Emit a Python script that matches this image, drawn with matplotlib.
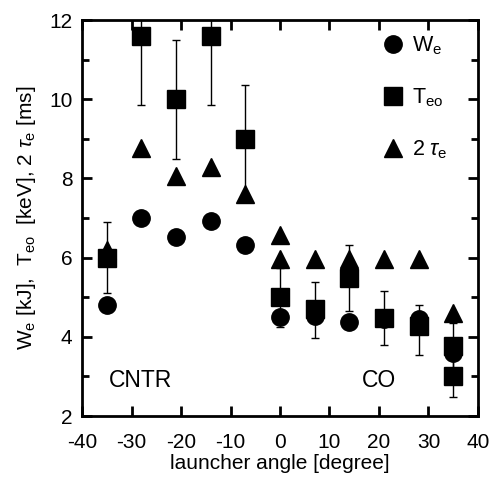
import matplotlib
matplotlib.use("Agg")
import matplotlib.pyplot as plt
from matplotlib.ticker import MultipleLocator

plt.rcParams['font.family'] = ['Liberation Sans', 'DejaVu Sans']
plt.rcParams['mathtext.fontset'] = 'custom'
plt.rcParams['mathtext.rm'] = 'Liberation Sans'
plt.rcParams['mathtext.it'] = 'Liberation Sans:italic'
plt.rcParams['axes.unicode_minus'] = False

# W_e [kJ]
we_angle = [-35, -28, -21, -14, -7, 0, 7, 14, 21, 28, 35]
we_value = [4.8, 7.0, 6.53, 6.92, 6.33, 4.5, 4.53, 4.38, 4.45, 4.46, 3.6]

# T_eo [keV]
te_angle = [-35, -28, -21, -14, -7, 0, 7, 14, 21, 28, 35, 35]
te_value = [6.0, 11.6, 10.0, 11.6, 9.0, 5.0, 4.7, 5.49, 4.48, 4.28, 3.77, 3.0]
te_err_low = [0.9, 1.75, 1.5, 1.75, 1.4, 0.75, 0.73, 0.83, 0.68, 0.74, 0.6, 0.52]
te_err_high = [0.9, 1.75, 1.5, 1.75, 1.35, 0.75, 0.69, 0.84, 0.68, 0.53, 0.58, 0.5]

# 2 tau_e [ms]
tau_angle = [-35, -28, -21, -14, -7, 0, 0, 7, 14, 21, 28, 35]
tau_value = [6.2, 8.78, 8.05, 8.28, 7.6, 6.58, 5.97, 5.97, 5.97, 5.97, 5.97, 4.6]

fig = plt.figure(figsize=(4.98, 4.88), dpi=100)
ax = fig.add_axes([0.1647, 0.1475, 0.7951, 0.8115])

ax.errorbar(te_angle, te_value, yerr=[te_err_low, te_err_high], fmt='none',
            ecolor='black', elinewidth=1.0, capsize=3, capthick=1.0, zorder=2)
ax.plot(we_angle, we_value, 'o', color='black', ms=12.5, zorder=3, label=r'W$_{\rm e}$')
ax.plot(te_angle, te_value, 's', color='black', ms=13.5, zorder=4, label=r'T$_{\rm eo}$')
ax.plot(tau_angle, tau_value, '^', color='black', ms=13, zorder=3, label=r'2 $\tau_{\rm e}$')

ax.set_xlim(-40, 40)
ax.set_ylim(2, 12)
ax.xaxis.set_major_locator(MultipleLocator(10))
ax.yaxis.set_major_locator(MultipleLocator(2))
ax.yaxis.set_minor_locator(MultipleLocator(1))
ax.tick_params(which='both', direction='in', top=True, right=True, width=2, labelsize=15)
ax.tick_params(which='major', length=7)
ax.tick_params(which='minor', length=5)
ax.tick_params(axis='x', which='major', pad=12)
ax.tick_params(axis='y', which='major', pad=7)
for s in ax.spines.values():
    s.set_linewidth(2)

ax.set_xlabel('launcher angle [degree]', fontsize=15, labelpad=2)
ax.set_ylabel(r'W$_{\rm e}$ [kJ],  T$_{\rm eo}$  [keV], 2 $\tau_{\rm e}$ [ms]', fontsize=15,
              labelpad=8)

ax.text(-34.5, 2.9, 'CNTR', fontsize=16.5, ha='left', va='center')
ax.text(16.5, 2.9, 'CO', fontsize=16.5, ha='left', va='center')

ax.legend(loc='upper right', bbox_to_anchor=(0.945, 0.985), frameon=False,
          fontsize=15.5, handletextpad=0.3, labelspacing=1.36, borderaxespad=0,
          handlelength=1.2)

fig.savefig('out.png', dpi=100)
